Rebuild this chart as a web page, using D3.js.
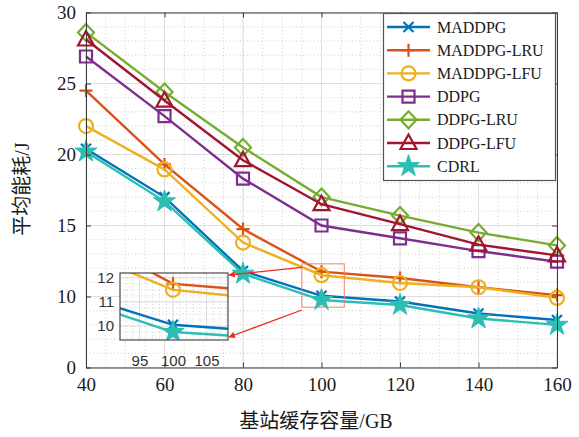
<!DOCTYPE html>
<html>
  <head>
    <meta charset="utf-8">
    <style>
      body { margin: 0; background: #fff; }
      text { font-family: "Liberation Serif", "Noto Sans CJK SC", serif; fill: #1a1a1a; }
      .inset text { font-family: "Liberation Sans", Arial, sans-serif; fill: #333; }
    </style>
    <script src="https://d3js.org/d3.v7.min.js"></script>
  </head>
  <body>
    <svg></svg>
    <script>
    // data
    var cacheSizes = [40, 60, 80, 100, 120, 140, 160];
    var seriesNames = ["MADDPG", "MADDPG-LRU", "MADDPG-LFU", "DDPG", "DDPG-LRU", "DDPG-LFU", "CDRL"];
    var maddpg    = [20.4, 17.0, 11.8, 10.05, 9.65, 8.8, 8.35];
    var maddpgLRU = [24.5, 19.3, 14.75, 11.75, 11.3, 10.65, 10.1];
    var maddpgLFU = [22.0, 18.95, 13.8, 11.5, 10.95, 10.65, 9.9];
    var ddpg      = [26.9, 22.7, 18.3, 15.0, 14.1, 13.2, 12.45];
    var ddpgLRU   = [28.6, 24.4, 20.5, 17.0, 15.7, 14.5, 13.6];
    var ddpgLFU   = [28.1, 23.8, 19.6, 16.5, 15.1, 13.65, 12.9];
    var cdrl      = [20.2, 16.7, 11.6, 9.75, 9.4, 8.45, 8.0];
    var xTicks = [40, 60, 80, 100, 120, 140, 160];
    var yTicks = [5, 10, 15, 20, 25, 30];
    var insetXTicks = [95, 100, 105];
    var insetYTicks = [10, 11, 12];

    var allValues = [maddpg, maddpgLRU, maddpgLFU, ddpg, ddpgLRU, ddpgLFU, cdrl];
    var colors = ["#0072BD", "#D95319", "#EDB120", "#7E2F8E", "#77AC30", "#A2142F", "#2BBFB3"];
    var markers = ["x", "plus", "circle", "square", "diamond", "triangle", "star"];

    var series = seriesNames.map(function(name, i) {
        return {
            name: name, color: colors[i], marker: markers[i],
            points: cacheSizes.map(function(c, j) { return [c, allValues[i][j]]; })
        };
    });

    var width = 579, height = 437;
    var svg = d3.select("svg").attr("width", width).attr("height", height);

    var x = d3.scaleLinear().domain([40, 160]).range([86, 557]);
    var y = d3.scaleLinear().domain([5, 30]).range([367.5, 12.5]);

    function markerPath(type) {
        var p = d3.path();
        if (type == "x") {
            p.moveTo(-5, -5); p.lineTo(5, 5); p.moveTo(-5, 5); p.lineTo(5, -5);
        } else if (type == "plus") {
            p.moveTo(-6.5, 0); p.lineTo(6.5, 0); p.moveTo(0, -6.5); p.lineTo(0, 6.5);
        } else if (type == "circle") {
            p.moveTo(7, 0); p.arc(0, 0, 7, 0, 2 * Math.PI);
        } else if (type == "square") {
            p.rect(-6, -6, 12, 12);
        } else if (type == "diamond") {
            p.moveTo(0, -8.5); p.lineTo(8, 0); p.lineTo(0, 8.5); p.lineTo(-8, 0); p.closePath();
        } else if (type == "triangle") {
            p.moveTo(0, -8.5); p.lineTo(8, 6); p.lineTo(-8, 6); p.closePath();
        } else {
            return d3.symbol().type(d3.symbolStar).size(150)();
        }
        return p.toString();
    }

    function drawSeries(g, xs, ys) {
        var line = d3.line().x(function(d) { return xs(d[0]); }).y(function(d) { return ys(d[1]); });
        var sg = g.selectAll("g.series").data(series).enter().append("g").attr("class", "series");
        sg.append("path")
            .attr("d", function(d) { return line(d.points); })
            .attr("fill", "none")
            .attr("stroke", function(d) { return d.color; })
            .attr("stroke-width", 2.4);
        sg.selectAll("path.mk")
            .data(function(d) { return d.points.map(function(p) { return { p: p, s: d }; }); })
            .enter().append("path")
            .attr("class", "mk")
            .attr("transform", function(d) { return "translate(" + xs(d.p[0]) + "," + ys(d.p[1]) + ")"; })
            .attr("d", function(d) { return markerPath(d.s.marker); })
            .attr("fill", function(d) { return d.s.marker == "star" ? d.s.color : "none"; })
            .attr("stroke", function(d) { return d.s.color; })
            .attr("stroke-width", function(d) { return d.s.marker == "star" ? 1 : 2.2; });
    }

    function drawGrid(g, xs, ys, xMinor, yMinor, xMajor, yMajor) {
        var x0 = xs.range()[0], x1 = xs.range()[1], y0 = ys.range()[0], y1 = ys.range()[1];
        g.selectAll("line.vmin").data(xMinor).enter().append("line")
            .attr("x1", xs).attr("x2", xs).attr("y1", y0).attr("y2", y1)
            .attr("stroke", "#c4c4c4").attr("stroke-width", 0.8).attr("stroke-dasharray", "1,2.5");
        g.selectAll("line.hmin").data(yMinor).enter().append("line")
            .attr("y1", ys).attr("y2", ys).attr("x1", x0).attr("x2", x1)
            .attr("stroke", "#c4c4c4").attr("stroke-width", 0.8).attr("stroke-dasharray", "1,2.5");
        g.selectAll("line.vmaj").data(xMajor).enter().append("line")
            .attr("x1", xs).attr("x2", xs).attr("y1", y0).attr("y2", y1)
            .attr("stroke", "#dedede").attr("stroke-width", 1);
        g.selectAll("line.hmaj").data(yMajor).enter().append("line")
            .attr("y1", ys).attr("y2", ys).attr("x1", x0).attr("x2", x1)
            .attr("stroke", "#dedede").attr("stroke-width", 1);
    }

    // main grid
    var main = svg.append("g");
    drawGrid(main, x, y, d3.range(40, 161, 5), d3.range(5, 31, 1), xTicks, yTicks);

    // main axes
    var ax = svg.append("g").attr("transform", "translate(0," + y(5) + ")")
        .call(d3.axisBottom(x).tickValues(xTicks).tickSizeInner(-5).tickSizeOuter(0).tickPadding(10));
    var ay = svg.append("g").attr("transform", "translate(" + x(40) + ",0)")
        .call(d3.axisLeft(y).tickValues(yTicks).tickSizeInner(-5).tickSizeOuter(0).tickPadding(10)
            .tickFormat(function(d) { return d == 5 ? "0" : d; }));
    svg.append("g").attr("transform", "translate(" + x(160) + ",0)")
        .call(d3.axisRight(y).tickValues(yTicks).tickSizeInner(-5).tickSizeOuter(0).tickFormat(""));
    svg.append("g").attr("transform", "translate(0," + y(30) + ")")
        .call(d3.axisTop(x).tickValues(xTicks).tickSizeInner(-5).tickSizeOuter(0).tickFormat(""));
    svg.selectAll(".domain").attr("stroke", "#3a3a3a");
    svg.selectAll(".tick line").attr("stroke", "#3a3a3a");
    ax.selectAll("text").attr("font-size", 19).attr("font-family", "Liberation Serif").attr("fill", "#1a1a1a");
    ay.selectAll("text").attr("font-size", 19).attr("font-family", "Liberation Serif").attr("fill", "#1a1a1a");

    drawSeries(main, x, y);

    // zoom box on the main plot
    svg.append("rect")
        .attr("x", x(95)).attr("y", y(12.3))
        .attr("width", x(105.8) - x(95)).attr("height", y(9.25) - y(12.3))
        .attr("fill", "none").attr("stroke", "#f08070").attr("stroke-width", 1);

    // inset
    var ix = d3.scaleLinear().domain([92.1, 108.2]).range([120, 228]);
    var iy = d3.scaleLinear().domain([9.42, 12.2]).range([340, 273]);
    var inset = svg.append("g").attr("class", "inset");
    inset.append("rect").attr("x", 120).attr("y", 273).attr("width", 108).attr("height", 67).attr("fill", "#fff");
    drawGrid(inset, ix, iy, d3.range(93, 108.5, 1), d3.range(9.5, 12.2, 0.25), insetXTicks, insetYTicks);
    var clip = svg.append("clipPath").attr("id", "insetClip");
    clip.append("rect").attr("x", 120).attr("y", 273).attr("width", 108).attr("height", 67);
    var insetData = inset.append("g").attr("clip-path", "url(#insetClip)");
    drawSeries(insetData, ix, iy);
    inset.append("rect").attr("x", 120).attr("y", 273).attr("width", 108).attr("height", 67)
        .attr("fill", "none").attr("stroke", "#4a4a4a").attr("stroke-width", 1.2);
    inset.append("g").attr("transform", "translate(0,340)")
        .call(d3.axisBottom(ix).tickValues(insetXTicks).tickSize(0).tickPadding(15).tickFormat(d3.format("d")))
        .call(function(g) { g.select(".domain").remove(); })
        .selectAll("text").attr("font-size", 15).attr("font-family", "Liberation Sans").attr("fill", "#333");
    inset.append("g").attr("transform", "translate(120,0)")
        .call(d3.axisLeft(iy).tickValues(insetYTicks).tickSize(0).tickPadding(6).tickFormat(d3.format("d")))
        .call(function(g) { g.select(".domain").remove(); })
        .selectAll("text").attr("font-size", 15).attr("font-family", "Liberation Sans").attr("fill", "#333");

    // arrows
    var defs = svg.append("defs");
    defs.append("marker").attr("id", "arrowHead")
        .attr("viewBox", "0 0 10 10").attr("refX", 9).attr("refY", 5)
        .attr("markerWidth", 6).attr("markerHeight", 5).attr("orient", "auto")
        .append("path").attr("d", "M0,0L10,5L0,10Z").attr("fill", "#ee2a1e");
    svg.append("line").attr("x1", x(95)).attr("y1", y(12.05)).attr("x2", 229).attr("y2", 275)
        .attr("stroke", "#ee2a1e").attr("stroke-width", 1.3).attr("marker-end", "url(#arrowHead)");
    svg.append("line").attr("x1", x(95)).attr("y1", y(9.05)).attr("x2", 229).attr("y2", 337)
        .attr("stroke", "#ee2a1e").attr("stroke-width", 1.3).attr("marker-end", "url(#arrowHead)");

    // legend
    var legend = svg.append("g");
    legend.append("rect").attr("x", 383.5).attr("y", 13.5).attr("width", 172).attr("height", 167)
        .attr("fill", "#fff").attr("stroke", "#555").attr("stroke-width", 1.2);
    var items = legend.selectAll("g.item").data(series).enter().append("g")
        .attr("transform", function(d, i) { return "translate(0," + (27 + i * 23.2) + ")"; });
    items.append("line").attr("x1", 387).attr("x2", 430).attr("y1", 0).attr("y2", 0)
        .attr("stroke", function(d) { return d.color; }).attr("stroke-width", 2.4);
    items.append("path").attr("transform", "translate(408.5,0)")
        .attr("d", function(d) { return markerPath(d.marker); })
        .attr("fill", function(d) { return d.marker == "star" ? d.color : "none"; })
        .attr("stroke", function(d) { return d.color; })
        .attr("stroke-width", function(d) { return d.marker == "star" ? 1 : 2.2; });
    items.append("text").attr("x", 437).attr("y", 5.5).attr("font-size", 16)
        .text(function(d) { return d.name; });

    // axis titles
    svg.append("text").attr("x", 316).attr("y", 428).attr("text-anchor", "middle")
        .attr("font-size", 20).text("基站缓存容量/GB");
    svg.append("text").attr("transform", "translate(29,189) rotate(-90)").attr("text-anchor", "middle")
        .attr("font-size", 20).text("平均能耗/J");
    </script>
  </body>
</html>
